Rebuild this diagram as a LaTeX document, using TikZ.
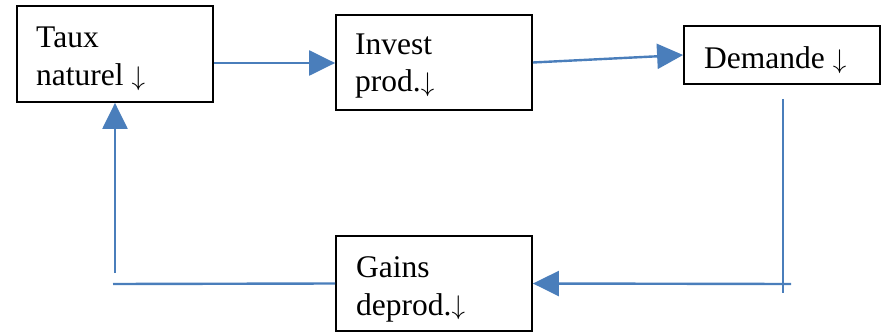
\documentclass[tikz,border=0pt]{standalone}
\usepackage{fontspec}
\usepackage{graphicx}
\setmainfont{Liberation Serif}
\usetikzlibrary{arrows.meta}
\definecolor{lblue}{HTML}{4A7EBB}
\newcommand{\dnarr}{\raisebox{-5pt}{\resizebox*{!}{24pt}{\raisebox{\depth}{$\downarrow$}}}}
\tikzset{
  box/.style={draw=black, line width=1.8pt, minimum width=196pt, inner sep=0pt},
  lbl/.style={anchor=base west, inner sep=0pt, font=\fontsize{31.5}{38}\selectfont},
  conn/.style={draw=lblue, line width=2.4pt},
  arr/.style={conn, -{Triangle[length=26pt,width=25pt]}}
}
\begin{document}
\begin{tikzpicture}[x=1pt,y=-1pt]
\useasboundingbox (0,0) rectangle (886,334);
% boxes
\node[box, minimum height=96pt] (b1) at (115,54) {};
\node[box, minimum height=95pt] (b2) at (434,62.5) {};
\node[box, minimum height=58pt] (b3) at (782,55) {};
\node[box, minimum height=95pt] (b4) at (434,283.5) {};
% texts
\node[lbl] (t1a) at (36,48) {Taux};
\node[lbl] (t1b) at (36,86) {naturel \dnarr};
\node[lbl] (t2a) at (355,55) {Invest};
\node[lbl] (t2b) at (355,92) {prod.\dnarr};
\node[lbl] (t3) at (704,69) {Demande \dnarr};
\node[lbl] (t4a) at (356,277) {Gains};
\node[lbl] (t4b) at (356,315) {deprod.\dnarr};
% free ends
\coordinate (v3top) at (783,99);
\coordinate (v3bot) at (783,293);
\coordinate (h3r) at (791,284);
\coordinate (h4l) at (113,284);
\coordinate (v1bot) at (115,273);
% connectors
\draw[arr] ([yshift=-9pt]b1.east) -- ([yshift=-0.5pt]b2.west);
\draw[arr] (b2.east) -- (b3.west);
\draw[conn] (v3top) -- (v3bot);
\draw[arr] (h3r) -- (b4.east);
\draw[conn] (b4.west) -- (h4l);
\draw[arr] (v1bot) -- (b1.south);
\end{tikzpicture}
\end{document}
